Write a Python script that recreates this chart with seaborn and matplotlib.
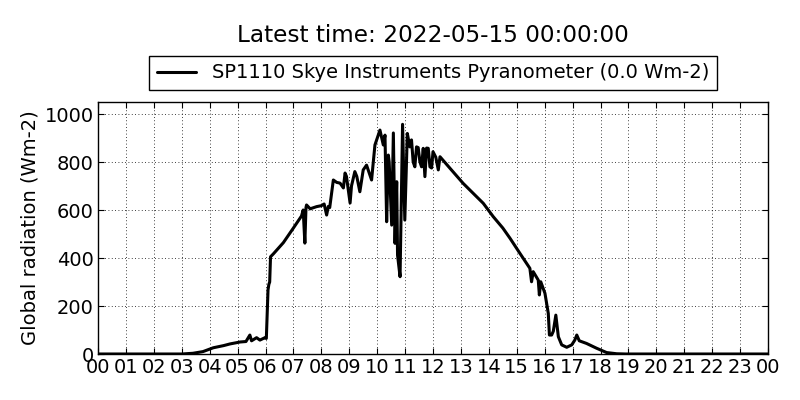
import matplotlib
matplotlib.use("Agg")
import matplotlib.pyplot as plt
import seaborn as sns

# values (hour of day, W m-2)
hours = [0, 3.0, 3.4, 3.76, 4.13, 4.5, 4.73, 5.09, 5.3, 5.44, 5.5, 5.68, 5.8, 5.98,
         6.03, 6.09, 6.12, 6.15, 6.18, 6.28, 6.64, 7.0, 7.29, 7.35, 7.41, 7.45, 7.47,
         7.6, 7.83, 8.0, 8.1, 8.19, 8.25, 8.3, 8.43, 8.55, 8.67, 8.79, 8.85, 8.9,
         9.03, 9.08, 9.2, 9.27, 9.38, 9.5, 9.62, 9.8, 9.92, 10.1, 10.22, 10.28,
         10.34, 10.4, 10.43, 10.52, 10.58, 10.64, 10.7, 10.73, 10.82, 10.91, 10.99,
         11.08, 11.17, 11.23, 11.29, 11.35, 11.41, 11.47, 11.53, 11.59, 11.65,
         11.71, 11.77, 11.83, 11.89, 11.95, 12.0, 12.1, 12.19, 12.25, 12.6, 13.08,
         13.8, 14.16, 14.5, 14.76, 15.11, 15.47, 15.53, 15.59, 15.77, 15.81, 15.86,
         16.01, 16.13, 16.17, 16.25, 16.31, 16.4, 16.49, 16.61, 16.79, 16.97,
         17.08, 17.15, 17.24, 17.5, 17.86, 18.22, 18.58, 18.9, 24]
radiation = [0, 0, 3, 10, 26, 35, 42, 50, 52, 79, 55, 68, 58, 68,
             65, 267, 290, 300, 405, 417, 464, 525, 575, 600, 462, 610, 621,
             605, 614, 618, 625, 579, 615, 610, 725, 715, 712, 692, 754, 740,
             629, 700, 760, 740, 676, 767, 787, 725, 871, 933, 871, 912,
             551, 829, 800, 537, 921, 461, 718, 412, 322, 957, 558,
             919, 863, 892, 800, 780, 863, 860, 801, 780, 857,
             739, 858, 857, 780, 775, 843, 820, 767, 822, 775, 711,
             628, 572, 525, 482, 420, 357, 301, 343, 308, 246, 301,
             253, 169, 79, 79, 95, 162, 72, 38, 28, 38,
             58, 79, 55, 44, 24, 6, 1, 0, 0]
tick_hours = list(range(0, 25))
tick_labels = ["%02d" % (h % 24) for h in tick_hours]

sns.set_style("white", {"axes.edgecolor": "black", "xtick.direction": "in",
                        "ytick.direction": "in", "text.color": "black",
                        "axes.labelcolor": "black", "xtick.color": "black",
                        "ytick.color": "black"})
plt.rcParams["font.family"] = ["DejaVu Sans"]

fig = plt.figure(figsize=(8, 4), dpi=100)
ax = fig.add_axes([0.1225, 0.115, 0.8375, 0.63])

sns.lineplot(x=hours, y=radiation, ax=ax, color="black", linewidth=2.2,
             estimator=None, label="SP1110 Skye Instruments Pyranometer (0.0 Wm-2)")

ax.set_xlim(0, 24)
ax.set_ylim(0, 1050)
ax.set_xticks(tick_hours)
ax.set_xticklabels(tick_labels)
ax.set_yticks([0, 200, 400, 600, 800, 1000])
ax.tick_params(axis="both", which="both", direction="in", length=4, width=0.8,
               top=True, right=True, bottom=True, left=True, labelsize=14, pad=3,
               colors="black")
ax.grid(True, linestyle=(0, (1, 3)), color="black", linewidth=0.6)
for s in ax.spines.values():
    s.set_color("black")
    s.set_linewidth(1)
ax.set_ylabel("Global radiation (Wm-2)", fontsize=14, color="black")
ax.set_xlabel("")

ax.legend(loc="lower center", bbox_to_anchor=(0.5, 1.008), fontsize=14,
          frameon=True, fancybox=False, edgecolor="black", framealpha=1,
          handlelength=2, borderpad=0.4)
fig.text(0.541, 0.912, "Latest time: 2022-05-15 00:00:00", ha="center", va="center",
         fontsize=16.7, color="black")

fig.savefig("out.png", dpi=100)
